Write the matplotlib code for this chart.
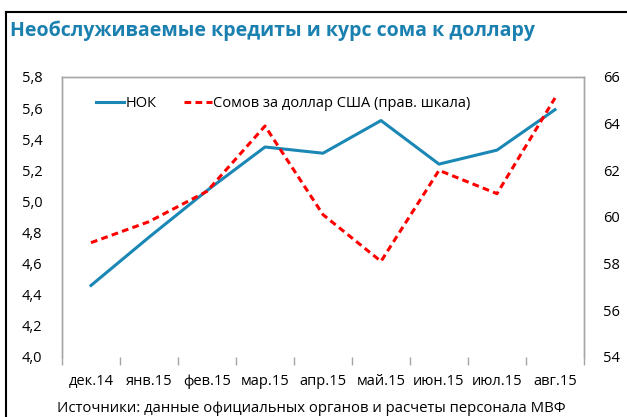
import matplotlib
matplotlib.use("Agg")
import matplotlib.pyplot as plt
from matplotlib.lines import Line2D
import numpy as np

plt.rcParams['font.family'] = ['Open Sans', 'DejaVu Sans']

# данные
months = ['дек.14', 'янв.15', 'фев.15', 'мар.15', 'апр.15', 'май.15', 'июн.15', 'июл.15', 'авг.15']
nok = [4.46, 4.77, 5.07, 5.35, 5.31, 5.52, 5.24, 5.33, 5.59]
somoni = [58.9, 59.8, 61.1, 63.9, 60.1, 58.1, 62.0, 61.0, 65.1]

blue = '#1a87b5'
red = '#ff0000'
grey = '#a6a6a6'

fig = plt.figure(figsize=(6.27, 4.17), dpi=100)
ax = fig.add_axes([62 / 627, 1 - 357 / 417, (584 - 62) / 627, (357 - 77) / 417])
ax2 = ax.twinx()

x = np.arange(len(months))
ax.plot(x, nok, color=blue, lw=2.2, label='НОК')
ax2.plot(x, somoni, color=red, lw=2.2, ls=(0, (2.2, 1.4)), label='Сомов за доллар США (прав. шкала)')

ax.set_xlim(-0.5, len(months) - 0.5)
ax.set_ylim(4.0, 5.8)
ax.set_yticks(np.arange(4.0, 5.81, 0.2))
ax.set_yticklabels([f'{v:.1f}'.replace('.', ',') for v in np.arange(4.0, 5.81, 0.2)])
ax2.set_ylim(54, 66)
ax2.set_yticks(range(54, 67, 2))

# подписи по оси X между делениями
ax.set_xticks(np.arange(-0.5, len(months), 1))
ax.set_xticklabels([])
ax.set_xticks(x, minor=True)
ax.set_xticklabels(months, minor=True)
ax.tick_params(axis='x', which='major', length=6, color=grey, width=1)
ax.tick_params(axis='x', which='minor', length=0, pad=12, labelsize=10.5)
ax.tick_params(axis='y', length=0, pad=14, labelsize=10.5)
ax2.tick_params(axis='y', length=0, pad=14, labelsize=10.5)

for a in (ax, ax2):
    for s in ('left', 'top', 'right'):
        a.spines[s].set_color(grey)
        a.spines[s].set_linewidth(1)
    a.spines['bottom'].set_visible(False)

h1, l1 = ax.get_legend_handles_labels()
h2, l2 = ax2.get_legend_handles_labels()
leg = ax2.legend(h1 + h2, l1 + l2, loc='upper left', bbox_to_anchor=(0.04, 0.98), ncol=2,
                 frameon=False, fontsize=10.5, handlelength=1.9, handletextpad=0.1,
                 columnspacing=1.9)

fig.text(10 / 627, 1 - 31 / 417, 'Необслуживаемые кредиты и курс сома к доллару',
         color='#1a80b0', fontsize=14, fontweight='bold', va='center', ha='left')
fig.text(57 / 627, 1 - 408 / 417, 'Источники: данные официальных органов и расчеты персонала МВФ',
         fontsize=10.7, va='center', ha='left')

# рамка слева и сверху
fig.add_artist(Line2D([6 / 627, 6 / 627], [0, 1 - 12 / 417], color='black', lw=1.5))
fig.add_artist(Line2D([6 / 627, 1], [1 - 12 / 417, 1 - 12 / 417], color='black', lw=1.5))

fig.savefig('out.png', dpi=100)
